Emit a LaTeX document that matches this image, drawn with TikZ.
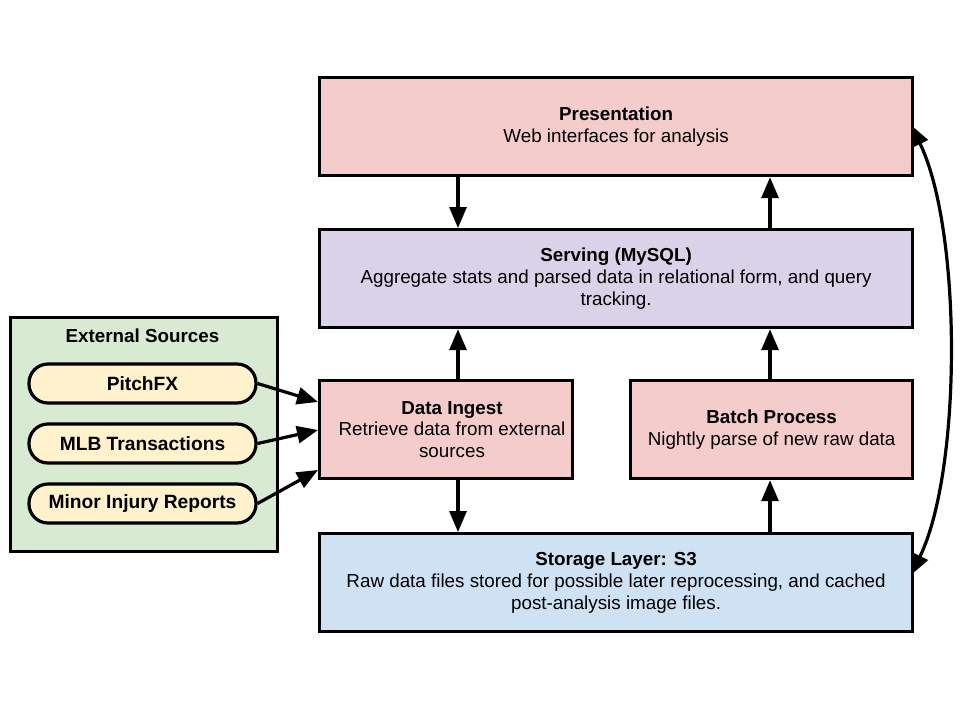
\documentclass[tikz,border=0pt]{standalone}
\usepackage{fontspec}
\setmainfont{Liberation Sans}
\usetikzlibrary{arrows.meta}
\definecolor{cpink}{HTML}{F4CCCC}
\definecolor{cpurple}{HTML}{D9D2E9}
\definecolor{cblue}{HTML}{CFE2F3}
\definecolor{cgreen}{HTML}{D9EAD3}
\definecolor{cyellow}{HTML}{FFF2CC}
\begin{document}
\begin{tikzpicture}[x=1pt,y=-1pt,
  txt/.style={align=center,inner sep=0pt,font=\fontsize{18.8}{21.8}\selectfont},
  box/.style={txt,draw=black,line width=3.2pt,anchor=north west},
  pill/.style={draw=black,line width=3.2pt,fill=cyellow,rounded corners=19pt,inner sep=0pt,
    minimum width=227pt,minimum height=39pt,font=\bfseries\fontsize{19.2}{21}\selectfont},
  arr/.style={line width=3.2pt,-{Triangle[length=21pt,width=17pt]}},
  darr/.style={line width=3.2pt,{Triangle[length=21pt,width=17pt]}-{Triangle[length=21pt,width=17pt]}}
]
\useasboundingbox (0,0) rectangle (960,720);
\fill[white] (0,0) rectangle (960,720);
% coordinates for vertical arrows
\coordinate (cL) at (458,0);
\coordinate (cR) at (770,0);
\coordinate (cT) at (452,0);
% boxes
\node[box,fill=cpink,minimum width=593pt,minimum height=98pt] (pres) at (318,76)
  {\textbf{Presentation}\\Web interfaces for analysis};
\node[box,fill=cpurple,minimum width=593pt,minimum height=98pt] (serv) at (318,228)
  {\textbf{Serving (MySQL)}\\Aggregate stats and parsed data in relational form, and query\\tracking.};
\node[box,fill=cpink,minimum width=253pt,minimum height=98pt] (ing) at (318,379) {};
\node[txt] (ingt) at (ing.center -| cT)
  {\textbf{Data Ingest}\\Retrieve data from external\\sources};
\node[box,fill=cpink,minimum width=282pt,minimum height=98pt] (bat) at (629,379)
  {\textbf{Batch Process}\\Nightly parse of new raw data};
\node[box,fill=cblue,minimum width=593pt,minimum height=98pt] (sto) at (318,532)
  {\textbf{Storage Layer: S3}\\Raw data files stored for possible later reprocessing, and cached\\post-analysis image files.};
% external sources
\node[draw=black,line width=3.2pt,fill=cgreen,anchor=north west,minimum width=267pt,minimum height=234pt,inner sep=0pt] (ext) at (9,316) {};
\node[font=\bfseries\fontsize{18.8}{21}\selectfont] (extt) at (142.5,336) {External Sources};
\node[pill] (pfx) at (142.5,383.5) {PitchFX};
\node[pill] (mlb) at (142.5,443.5) {MLB Transactions};
\node[pill] (inj) at (142.5,503.5) {Minor Injury Reports};
\draw[arr] (pres.south -| cL) -- (serv.north -| cL);
\draw[arr] (serv.north -| cR) -- (pres.south -| cR);
\draw[arr] (ing.north -| cL) -- (serv.south -| cL);
\draw[arr] (bat.north -| cR) -- (serv.south -| cR);
\draw[arr] (ing.south -| cL) -- (sto.north -| cL);
\draw[arr] (sto.north -| cR) -- (bat.south -| cR);
% source arrows
\coordinate (i1) at (318,402);
\coordinate (i2) at (318,430);
\coordinate (i3) at (318,470);
\draw[arr] (pfx.east) -- (i1);
\draw[arr] (mlb.east) -- (i2);
\draw[arr] (inj.east) -- (i3);
% curved double arrow
\coordinate (pe) at (911,125);
\coordinate (se) at (911,575);
\draw[darr] (pe) .. controls (962,230) and (962,470) .. (se);
\end{tikzpicture}
\end{document}
